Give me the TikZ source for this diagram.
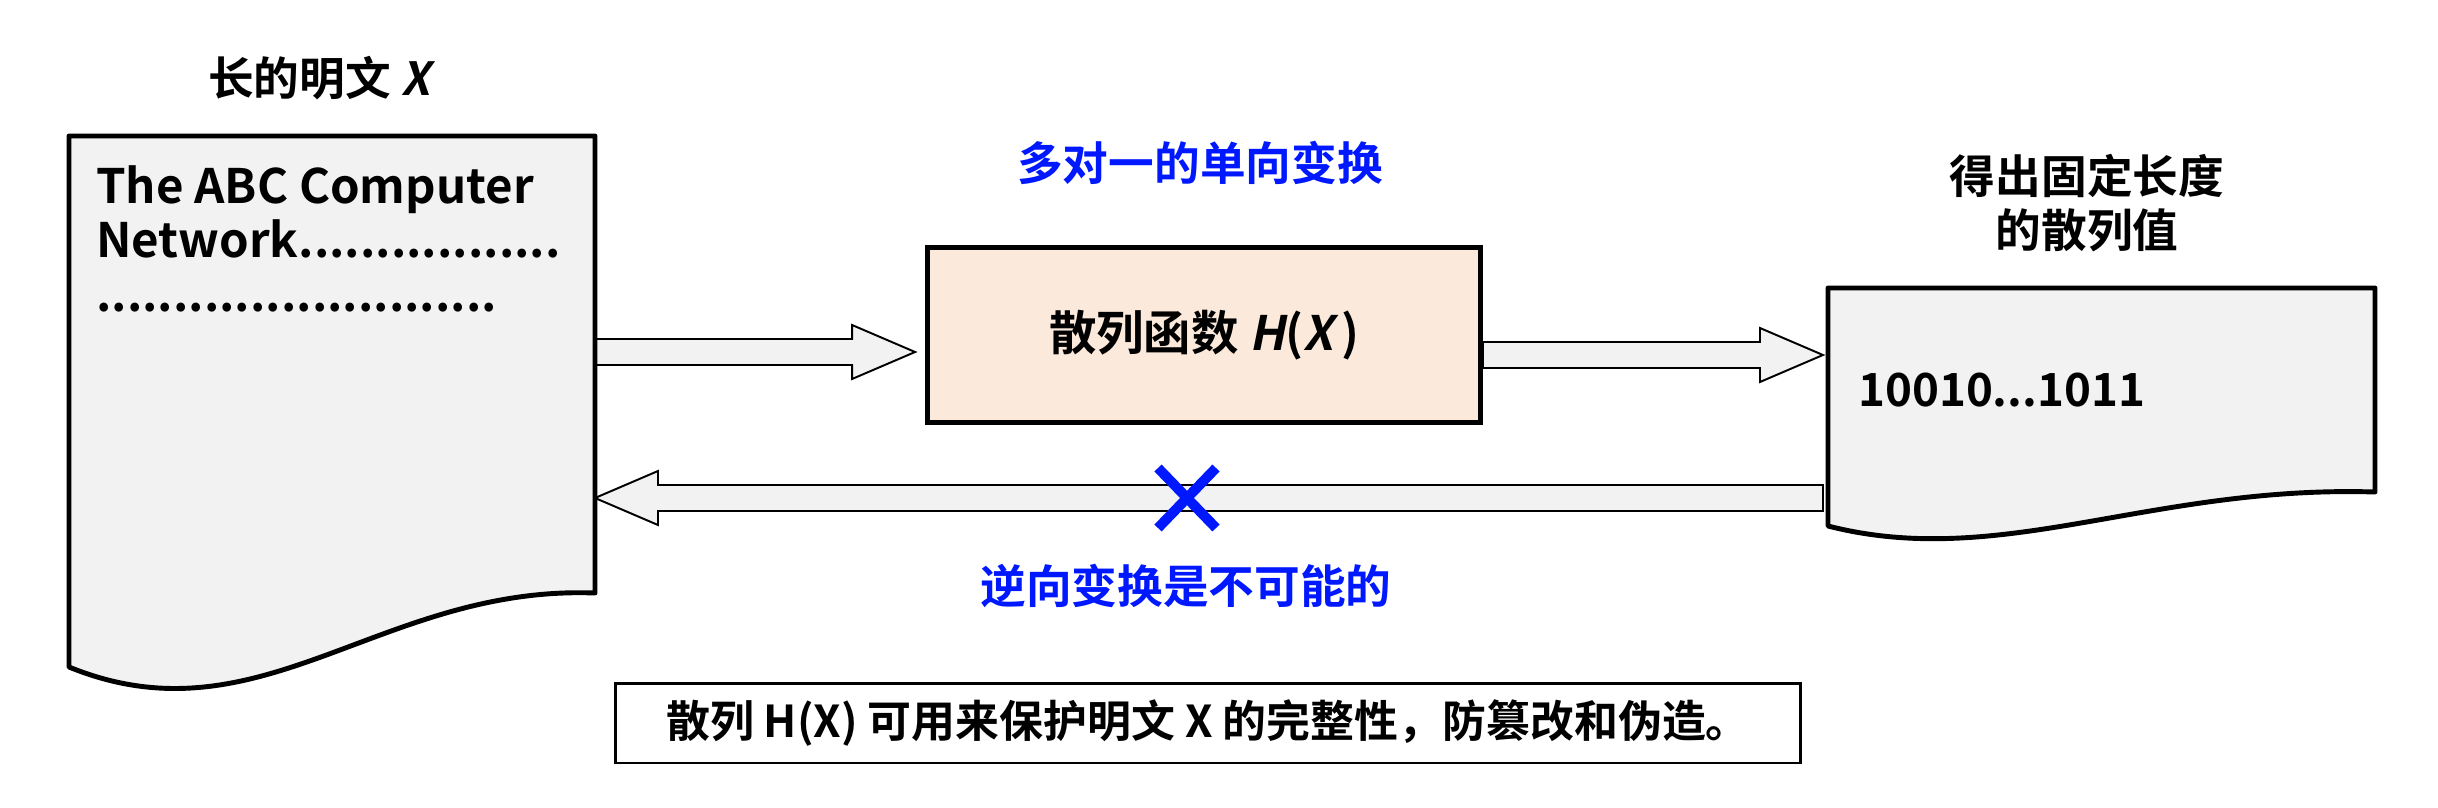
\documentclass[tikz,border=0pt]{standalone}
\usepackage{fontspec}
\setmainfont{Noto Sans CJK SC Bold}[ItalicFont={Noto Sans CJK SC Bold}, ItalicFeatures={FakeSlant=0.2}]
\usetikzlibrary{calc}

\definecolor{docgray}{RGB}{242,242,242}
\definecolor{peach}{RGB}{251,233,219}
\definecolor{noteblue}{RGB}{0,24,255}

\tikzset{
  docline/.style={draw=black, line width=2.8pt, fill=docgray, line join=round},
  hollowarrow/.style={draw=black, line width=1.1pt, fill=docgray},
  hashbox/.style={draw=black, line width=2.8pt, fill=peach, minimum width=11.06cm, minimum height=3.5cm},
  notebox/.style={draw=black, line width=1.7pt, fill=white, minimum width=23.72cm, minimum height=1.6cm},
  bigtext/.style={font=\fontsize{26}{31}\selectfont},
  bluetext/.style={bigtext, text=noteblue}
}

% start, tip, direction (1 = right, -1 = left)
\newcommand{\hollowarrow}[3]{%
  \draw[hollowarrow] ($(#1)+(0,-13)$) -- ($(#2)+(-63*#3,-13)$) -- ($(#2)+(-63*#3,-27)$)
    -- (#2) -- ($(#2)+(-63*#3,27)$) -- ($(#2)+(-63*#3,13)$) -- ($(#1)+(0,13)$) -- cycle;}

\begin{document}
\begin{tikzpicture}[x=0.02cm, y=-0.02cm]
  \useasboundingbox (0,0) rectangle (2438,808);

  % arrows first, the pages sit on top of them
  \coordinate (plainout) at (595,352);
  \coordinate (plainin) at (595,498);
  \coordinate (digestin) at (1823,355);
  \coordinate (digestout) at (1823,498);
  \node[hashbox] (hash) at (1204,335) {};
  \hollowarrow{plainout}{$(hash.west)+(-10,17)$}{1}
  \hollowarrow{$(hash.east)+(0,20)$}{digestin}{1}
  \hollowarrow{digestout}{plainin}{-1}
  \node[font=\fontsize{27}{32}\selectfont] (hashlabel) at (hash) {散列函数 \textit{H}(\textit{X}\,)};

  % long plaintext page
  \draw[docline] (69,136) -- (595,136) -- (595,593)
    .. controls (380,585) and (260,745) .. (69,667) -- cycle;
  \node[bigtext] (plaintitle) at (319,78) {长的明文 \textit{X}};
  \node[font=\fontsize{27}{31}\selectfont, anchor=north west, align=left] (plaintext) at (90,159)
    {The ABC Computer\\Network.................\\..........................};

  % digest page
  \draw[docline] (1828,288) -- (2375,288) -- (2375,492)
    .. controls (2150,485) and (2000,570) .. (1828,526) -- cycle;
  \node[bigtext, align=center] (digesttitle) at (2087,203) {得出固定长度\\的散列值};
  \node[bigtext, anchor=west] (digesttext) at (1852,390) {10010...1011};

  % notes
  \node[bluetext] (manytoone) at (1200,163) {多对一的单向变换};
  \node[bluetext] (noinverse) at (1186,586) {逆向变换是不可能的};
  \draw[noteblue, line width=5.7pt] (1158,468) -- (1216,528) (1216,468) -- (1158,528);

  \node[notebox] (summary) at (1208,723)
    {\fontsize{25}{30}\selectfont 散列 H(X) 可用来保护明文 X 的完整性，防篡改和伪造。};
\end{tikzpicture}
\end{document}
